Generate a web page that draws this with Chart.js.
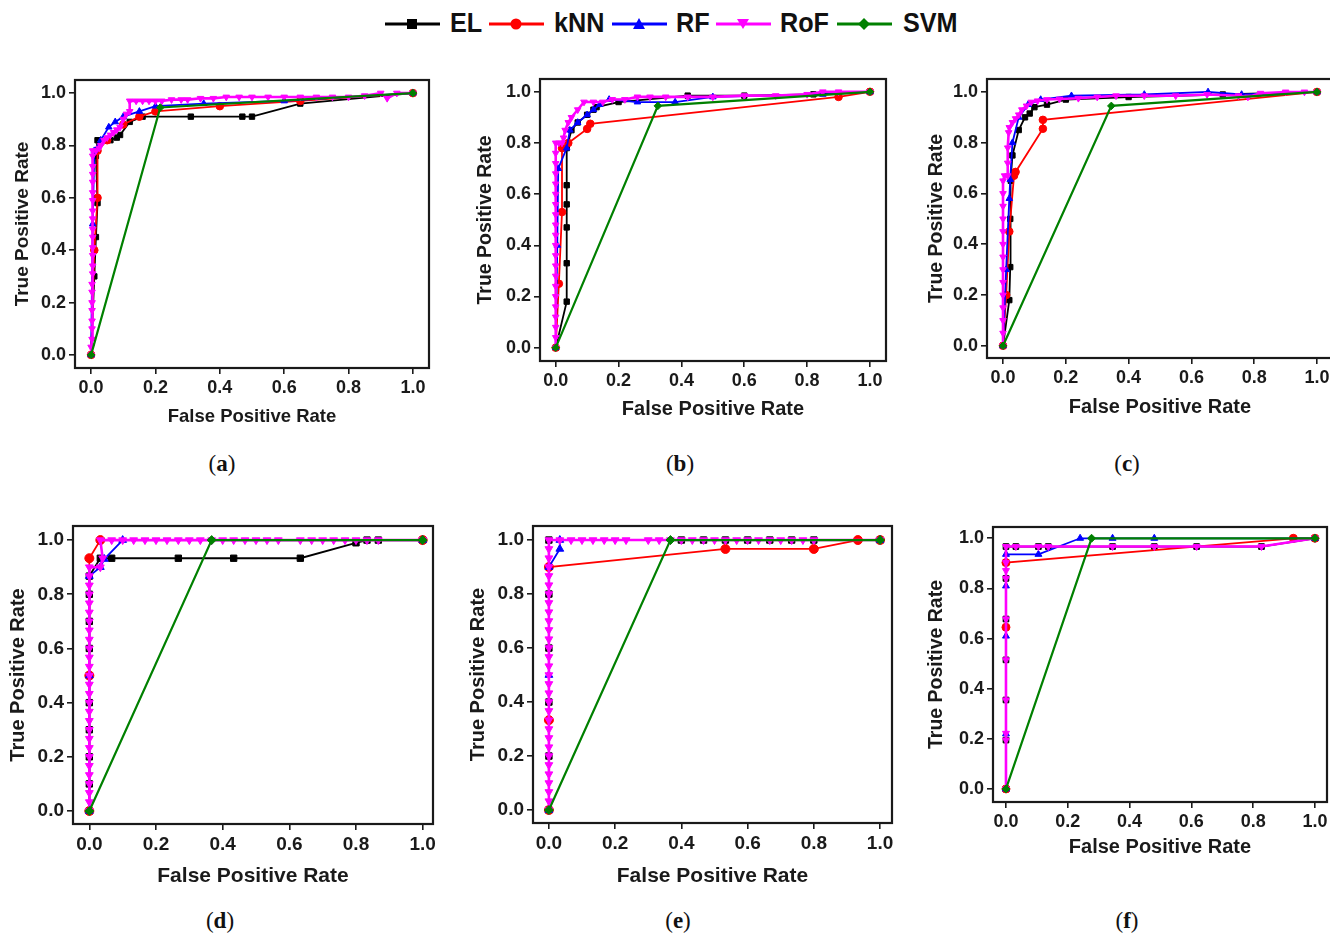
<!DOCTYPE html>
<html>
<head>
<meta charset="utf-8">
<title>ROC curves</title>
<script src="https://cdn.jsdelivr.net/npm/chart.js@4.4.0/dist/chart.umd.min.js"></script>
<style>
html, body {
    margin: 0;
    padding: 0;
    background: #fff;
    width: 1330px;
    height: 936px;
    overflow: hidden;
    position: relative;
    font-family: "Liberation Sans", Arial, sans-serif;
}
.panel { position: absolute; }
.tag {
    position: absolute;
    font-family: "Liberation Serif", "DejaVu Serif", serif;
    font-size: 23px;
    color: #111;
    transform: translate(-50%, -50%);
}
.legend-line { position: absolute; top: 9px; }
.legend-text {
    position: absolute;
    top: 6px;
    font-weight: bold;
    font-size: 28px;
    line-height: 34px;
    color: #111;
    transform: scaleX(0.9);
    transform-origin: left center;
}
</style>
</head>
<body>

<script>
// =========================
// Data
// =========================

const models = ["EL", "kNN", "RF", "RoF", "SVM"];
const panelLetters = ["a", "b", "c", "d", "e", "f"];
const tickValues = [0, 0.2, 0.4, 0.6, 0.8, 1.0];

// panel (a)
const elA = [[0,0],[0.01,0.3],[0.015,0.45],[0.02,0.58],[0.015,0.76],[0.02,0.82],[0.06,0.82],[0.08,0.83],[0.09,0.84],[0.12,0.89],[0.16,0.91],[0.31,0.91],[0.47,0.91],[0.5,0.91],[0.65,0.96],[1,1]];
const knnA = [[0,0],[0.01,0.4],[0.02,0.6],[0.02,0.78],[0.05,0.82],[0.1,0.88],[0.15,0.91],[0.2,0.93],[0.4,0.95],[0.65,0.97],[1,1]];
const rfA = [[0,0],[0.005,0.5],[0.01,0.78],[0.03,0.82],[0.055,0.87],[0.075,0.89],[0.1,0.91],[0.15,0.93],[0.2,0.95],[0.35,0.96],[0.6,0.97],[1,1]];
const rofA = [[0,0],[0,0.03],[0.003,0.06],[0.003,0.1],[0.003,0.13],[0.003,0.17],[0.003,0.2],[0.003,0.24],[0.003,0.27],[0.005,0.31],[0.005,0.34],[0.005,0.38],[0.005,0.41],[0.005,0.45],[0.005,0.48],[0.005,0.52],[0.005,0.55],[0.005,0.59],[0.005,0.62],[0.005,0.66],[0.005,0.69],[0.005,0.72],[0.005,0.76],[0.005,0.78],[0.015,0.78],[0.025,0.79],[0.03,0.8],[0.04,0.82],[0.05,0.83],[0.06,0.84],[0.07,0.85],[0.08,0.86],[0.09,0.87],[0.1,0.9],[0.11,0.92],[0.12,0.93],[0.12,0.97],[0.14,0.97],[0.16,0.97],[0.18,0.97],[0.2,0.97],[0.22,0.97],[0.25,0.975],[0.28,0.975],[0.3,0.975],[0.34,0.98],[0.38,0.98],[0.42,0.985],[0.46,0.985],[0.5,0.985],[0.55,0.985],[0.6,0.985],[0.65,0.985],[0.7,0.985],[0.75,0.985],[0.8,0.985],[0.85,0.99],[0.9,1],[0.92,0.98],[0.95,1],[1,1]];
const svmA = [[0,0],[0.215,0.945],[1,1]];

// panel (b)
const elB = [[0,0],[0.035,0.18],[0.035,0.33],[0.035,0.47],[0.035,0.56],[0.035,0.635],[0.035,0.78],[0.05,0.85],[0.07,0.88],[0.1,0.91],[0.12,0.93],[0.13,0.94],[0.2,0.96],[0.42,0.985],[0.6,0.985],[0.82,0.99],[1,1]];
const knnB = [[0,0],[0.01,0.25],[0.02,0.53],[0.02,0.78],[0.04,0.8],[0.1,0.855],[0.11,0.875],[0.9,0.98],[1,1]];
const rfB = [[0,0],[0.005,0.4],[0.008,0.7],[0.035,0.78],[0.045,0.85],[0.07,0.88],[0.1,0.91],[0.12,0.93],[0.14,0.95],[0.17,0.97],[0.26,0.96],[0.38,0.96],[0.5,0.98],[0.85,0.99],[1,1]];
const rofB = [[0,0],[0,0.04],[0,0.08],[0,0.12],[0,0.16],[0,0.2],[0,0.24],[0,0.28],[0,0.32],[0,0.36],[0,0.4],[0,0.44],[0,0.48],[0,0.52],[0,0.56],[0,0.6],[0,0.64],[0,0.68],[0,0.72],[0,0.76],[0,0.8],[0.01,0.8],[0.02,0.8],[0.025,0.82],[0.03,0.85],[0.04,0.88],[0.05,0.9],[0.07,0.93],[0.09,0.96],[0.12,0.96],[0.15,0.96],[0.18,0.97],[0.22,0.97],[0.26,0.98],[0.3,0.98],[0.35,0.98],[0.42,0.98],[0.5,0.98],[0.6,0.985],[0.7,0.985],[0.8,0.99],[0.85,1],[0.9,1],[1,1]];
const svmB = [[0,0],[0.325,0.945],[1,1]];

// panel (c)
const elC = [[0,0],[0.02,0.18],[0.023,0.31],[0.023,0.5],[0.025,0.65],[0.03,0.75],[0.05,0.85],[0.07,0.9],[0.085,0.915],[0.1,0.94],[0.14,0.95],[0.2,0.97],[0.4,0.98],[0.7,0.99],[1,1]];
const knnC = [[0,0],[0.01,0.2],[0.02,0.45],[0.035,0.67],[0.04,0.685],[0.127,0.855],[0.127,0.89],[1,1]];
const rfC = [[0,0],[0.01,0.3],[0.02,0.58],[0.023,0.655],[0.03,0.8],[0.05,0.9],[0.08,0.95],[0.12,0.97],[0.218,0.985],[0.45,0.99],[0.653,1],[0.76,0.99],[1,1]];
const rofC = [[0,0],[0,0.05],[0,0.1],[0,0.15],[0,0.2],[0,0.25],[0,0.3],[0,0.35],[0,0.4],[0,0.45],[0,0.5],[0,0.55],[0,0.6],[0,0.65],[0.005,0.67],[0.015,0.67],[0.015,0.72],[0.015,0.78],[0.018,0.84],[0.02,0.86],[0.03,0.88],[0.04,0.895],[0.05,0.91],[0.06,0.93],[0.075,0.945],[0.09,0.96],[0.11,0.965],[0.14,0.97],[0.18,0.972],[0.24,0.975],[0.3,0.98],[0.36,0.985],[0.45,0.985],[0.55,0.985],[0.65,0.99],[0.75,0.985],[0.78,0.98],[0.82,0.995],[0.9,1],[0.96,1],[1,1]];
const svmC = [[0,0],[0.345,0.945],[1,1]];

// panel (d)
const elD = [[0,0],[0,0.1],[0,0.2],[0,0.3],[0,0.4],[0,0.5],[0,0.6],[0,0.7],[0,0.8],[0,0.867],[0.033,0.933],[0.067,0.933],[0.267,0.933],[0.433,0.933],[0.633,0.933],[0.8,0.99],[0.833,1],[0.867,1],[1,1]];
const knnD = [[0,0],[0,0.5],[0,0.933],[0.033,1],[1,1]];
const rfD = [[0,0],[0,0.5],[0,0.867],[0.033,0.9],[0.045,0.93],[0.1,1],[1,1]];
const rofD = [[0,0],[0,0.033],[0,0.067],[0,0.1],[0,0.133],[0,0.167],[0,0.2],[0,0.233],[0,0.267],[0,0.3],[0,0.333],[0,0.367],[0,0.4],[0,0.433],[0,0.467],[0,0.5],[0,0.533],[0,0.567],[0,0.6],[0,0.633],[0,0.667],[0,0.7],[0,0.733],[0,0.767],[0,0.8],[0,0.833],[0,0.867],[0,0.9],[0.033,0.9],[0.04,0.933],[0.033,1],[0.067,1],[0.1,1],[0.133,1],[0.167,1],[0.2,1],[0.233,1],[0.267,1],[0.3,1],[0.333,1],[0.367,1],[0.4,1],[0.433,1],[0.467,1],[0.5,1],[0.533,1],[0.567,1],[0.633,1],[0.667,1],[0.7,1],[0.733,1],[0.767,1],[0.8,1],[0.833,1],[0.867,1],[1,1]];
const svmD = [[0,0],[0.367,1],[1,1]];

// panel (e)
const elE = [[0,0],[0,0.2],[0,0.4],[0,0.6],[0,0.8],[0,1],[0.4,1],[0.467,1],[0.533,1],[0.6,1],[0.667,1],[0.733,1],[0.8,1],[1,1]];
const knnE = [[0,0],[0,0.333],[0,0.9],[0.533,0.967],[0.8,0.967],[0.933,1],[1,1]];
const rfE = [[0,0],[0,0.5],[0,0.9],[0.033,0.967],[0.033,1],[1,1]];
const rofE = [[0,0],[0,0.033],[0,0.067],[0,0.1],[0,0.133],[0,0.167],[0,0.2],[0,0.233],[0,0.267],[0,0.3],[0,0.333],[0,0.367],[0,0.4],[0,0.433],[0,0.467],[0,0.5],[0,0.533],[0,0.567],[0,0.6],[0,0.633],[0,0.667],[0,0.7],[0,0.733],[0,0.767],[0,0.8],[0,0.833],[0,0.867],[0,0.9],[0,0.933],[0,0.967],[0,1],[0.033,1],[0.067,1],[0.1,1],[0.133,1],[0.167,1],[0.2,1],[0.233,1],[0.3,1],[0.333,1],[0.367,1],[0.4,1],[0.433,1],[0.467,1],[0.5,1],[0.533,1],[0.567,1],[0.6,1],[0.633,1],[0.667,1],[0.7,1],[0.733,1],[0.767,1],[0.8,1],[1,1]];
const svmE = [[0,0],[0.367,1],[1,1]];

// panel (f)
const elF = [[0,0],[0,0.195],[0,0.355],[0,0.515],[0,0.678],[0,0.84],[0,0.903],[0,0.967],[0.032,0.967],[0.105,0.967],[0.137,0.967],[0.345,0.967],[0.48,0.967],[0.617,0.967],[0.827,0.967],[1,1]];
const knnF = [[0,0],[0,0.645],[0,0.903],[0.93,1],[1,1]];
const rfF = [[0,0],[0,0.22],[0,0.61],[0,0.81],[0,0.936],[0.105,0.936],[0.24,1],[0.345,1],[0.48,1],[1,1]];
const rofF = [[0,0],[0,0.195],[0,0.222],[0,0.355],[0,0.515],[0,0.678],[0,0.84],[0,0.871],[0,0.903],[0,0.967],[0.032,0.967],[0.105,0.967],[0.137,0.967],[0.345,0.967],[0.48,0.967],[0.617,0.967],[0.827,0.967],[1,1]];
const svmF = [[0,0],[0.277,1],[1,1]];

const panelSeries = [
    [elA, knnA, rfA, rofA, svmA],
    [elB, knnB, rfB, rofB, svmB],
    [elC, knnC, rfC, rofC, svmC],
    [elD, knnD, rfD, rofD, svmD],
    [elE, knnE, rfE, rofE, svmE],
    [elF, knnF, rfF, rofF, svmF]
];

// =========================
// Styles and layout
// =========================

const styles = {
    EL:  { color: "#000000", width: 1.8, shape: "rect",     rotation: 0,   order: 4 },
    kNN: { color: "#ff0000", width: 1.8, shape: "circle",   rotation: 0,   order: 3 },
    RF:  { color: "#0000ff", width: 1.8, shape: "triangle", rotation: 0,   order: 2 },
    RoF: { color: "#ff00ff", width: 2.6, shape: "triangle", rotation: 180, order: 1 },
    SVM: { color: "#008000", width: 2.2, shape: "rectRot",  rotation: 0,   order: 0 }
};

// canvas box, axis box sizes, value ranges, font sizes, marker radius
const layouts = [
    { left: 11,  top: 60,  w: 443, h: 368, yw: 64, xh: 60, xMin: -0.05,  xMax: 1.05,  yMin: -0.05,  yMax: 1.05,  tick: 18,   xt: 18.5, yt: 19,   r: 3.8 },
    { left: 474, top: 59,  w: 437, h: 362, yw: 66, xh: 60, xMin: -0.05,  xMax: 1.051, yMin: -0.052, yMax: 1.05,  tick: 18,   xt: 20,   yt: 19.5, r: 3.8 },
    { left: 925, top: 59,  w: 433, h: 360, yw: 62, xh: 61, xMin: -0.051, xMax: 1.051, yMin: -0.048, yMax: 1.051, tick: 18,   xt: 20,   yt: 19.5, r: 3.8 },
    { left: 6,   top: 506, w: 452, h: 383, yw: 67, xh: 65, xMin: -0.049, xMax: 1.031, yMin: -0.048, yMax: 1.052, tick: 19,   xt: 21,   yt: 20,   r: 4.5 },
    { left: 466, top: 506, w: 451, h: 383, yw: 67, xh: 66, xMin: -0.048, xMax: 1.036, yMin: -0.048, yMax: 1.052, tick: 19,   xt: 21,   yt: 20,   r: 4.5 },
    { left: 925, top: 507, w: 427, h: 352, yw: 68, xh: 57, xMin: -0.042, xMax: 1.039, yMin: -0.052, yMax: 1.045, tick: 18,   xt: 20,   yt: 19.5, r: 4 }
];

const tagPositions = [[222, 464], [680, 464], [1127, 464], [220, 921], [678, 921], [1127, 921]];

// legend: line start and text start, px
const legendLineX = [385, 489, 612, 716, 837];
const legendTextX = [450, 554, 676, 780, 903];

const fontFamily = "'Liberation Sans', Arial, sans-serif";
const inkColor = "#1a1a1a";

// =========================
// Frame plugin
// =========================

const framePlugin = {
    id: "frame",
    afterDatasetsDraw(chart) {
        const a = chart.chartArea;
        const ctx = chart.ctx;
        ctx.save();
        ctx.strokeStyle = inkColor;
        ctx.lineWidth = 2.2;
        ctx.strokeRect(a.left, a.top, a.right - a.left, a.bottom - a.top);
        ctx.restore();
    }
};

// =========================
// Build one ROC panel
// =========================

function axisOptions(p, isX) {
    return {
        type: "linear",
        min: isX ? p.xMin : p.yMin,
        max: isX ? p.xMax : p.yMax,
        afterBuildTicks: function(scale) {
            scale.ticks = tickValues.map(v => ({ value: v }));
        },
        afterFit: function(scale) {
            if (isX) {
                scale.height = p.xh;
            } else {
                scale.width = p.yw;
            }
        },
        grid: {
            display: true,
            drawOnChartArea: false,
            drawTicks: true,
            tickLength: 6,
            color: inkColor,
            lineWidth: 1.6
        },
        border: { display: false },
        ticks: {
            color: inkColor,
            padding: 3,
            autoSkip: false,
            maxRotation: 0,
            minRotation: 0,
            font: { family: fontFamily, size: p.tick, weight: "bold" },
            callback: v => Number(v).toFixed(1)
        },
        title: {
            display: true,
            text: isX ? "False Positive Rate" : "True Positive Rate",
            color: inkColor,
            padding: 0,
            font: { family: fontFamily, size: isX ? p.xt : p.yt, weight: "bold" }
        }
    };
}

function buildPanel(index) {

    const p = layouts[index];

    const canvas = document.createElement("canvas");
    canvas.className = "panel";
    canvas.width = p.w;
    canvas.height = p.h;
    canvas.style.left = p.left + "px";
    canvas.style.top = p.top + "px";
    canvas.style.width = p.w + "px";
    canvas.style.height = p.h + "px";
    document.body.appendChild(canvas);

    const datasets = models.map((name, i) => {
        const st = styles[name];
        return {
            label: name,
            data: panelSeries[index][i],
            borderColor: st.color,
            backgroundColor: st.color,
            borderWidth: st.width,
            pointStyle: st.shape,
            pointRotation: st.rotation,
            pointRadius: p.r,
            pointHoverRadius: p.r,
            pointBorderWidth: 1,
            tension: 0,
            order: st.order
        };
    });

    new Chart(canvas, {
        type: "line",
        data: { datasets: datasets },
        options: {
            responsive: false,
            animation: false,
            events: [],
            layout: { padding: { top: 20, right: 25, left: 0, bottom: 0 } },
            plugins: {
                legend: { display: false },
                tooltip: { enabled: false }
            },
            scales: {
                x: axisOptions(p, true),
                y: axisOptions(p, false)
            }
        },
        plugins: [framePlugin]
    });

    const tag = document.createElement("div");
    tag.className = "tag";
    tag.style.left = tagPositions[index][0] + "px";
    tag.style.top = tagPositions[index][1] + "px";
    tag.innerHTML = "(<b>" + panelLetters[index] + "</b>)";
    document.body.appendChild(tag);
}

panelLetters.forEach((letter, i) => buildPanel(i));

// =========================
// Shared legend
// =========================

function markerSvg(name) {
    const st = styles[name];
    const c = st.color;
    let shape = "";
    if (st.shape === "rect") {
        shape = '<rect x="22" y="10" width="10" height="10" fill="' + c + '"/>';
    } else if (st.shape === "circle") {
        shape = '<circle cx="27" cy="15" r="5.5" fill="' + c + '"/>';
    } else if (st.shape === "rectRot") {
        shape = '<polygon points="27,9 33,15 27,21 21,15" fill="' + c + '"/>';
    } else if (st.rotation === 180) {
        shape = '<polygon points="21,10 33,10 27,20" fill="' + c + '"/>';
    } else {
        shape = '<polygon points="27,9 33,20 21,20" fill="' + c + '"/>';
    }
    return '<svg width="55" height="30" viewBox="0 0 55 30">' +
        '<line x1="0" y1="15" x2="55" y2="15" stroke="' + c + '" stroke-width="3"/>' +
        shape + '</svg>';
}

models.forEach((name, i) => {

    const line = document.createElement("div");
    line.className = "legend-line";
    line.style.left = legendLineX[i] + "px";
    line.innerHTML = markerSvg(name);
    document.body.appendChild(line);

    const text = document.createElement("div");
    text.className = "legend-text";
    text.style.left = legendTextX[i] + "px";
    text.innerText = name;
    document.body.appendChild(text);
});
</script>
</body>
</html>
